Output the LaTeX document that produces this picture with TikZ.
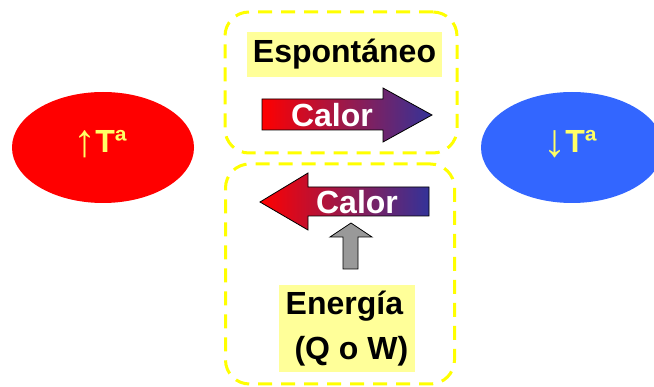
\documentclass[tikz,border=0pt]{standalone}
\usepackage{fontspec}
\setmainfont{Liberation Sans}
\definecolor{hotred}{HTML}{FF0000}
\definecolor{coldblue}{HTML}{3366FF}
\definecolor{labyel}{HTML}{FFFF66}
\definecolor{boxyel}{HTML}{FFFF99}
\definecolor{dashyel}{HTML}{FFFF00}
\definecolor{arrowend}{HTML}{333399}
\definecolor{grayarr}{HTML}{999999}
\newcommand{\bigarr}[1]{{\fontsize{46}{46}\selectfont\mdseries\raisebox{-4pt}{#1}}}
\tikzset{
  body/.style={ellipse, minimum width=182pt, minimum height=111pt, inner sep=0pt},
  dbox/.style={draw=dashyel, line width=3pt, rounded corners=24pt, dash pattern=on 14pt off 9pt, inner sep=0pt},
  tlabel/.style={text=labyel, font=\fontsize{32}{32}\selectfont\bfseries},
  hlabel/.style={fill=boxyel, inner sep=0pt, font=\fontsize{32}{45}\selectfont\bfseries},
  arrlabel/.style={text=white, font=\fontsize{32}{32}\selectfont\bfseries},
  heatarrow/.style={draw=black, line width=0.8pt, left color=hotred, right color=arrowend},
  energyarrow/.style={draw=black, line width=0.8pt, fill=grayarr}
}
\usetikzlibrary{shapes.geometric}
\begin{document}
\begin{tikzpicture}[x=1pt,y=-1pt]
\useasboundingbox (0,0) rectangle (654,387);
% bodies
\node[body, fill=hotred] (hot) at (103,147.5) {};
\node[body, fill=coldblue] (cold) at (572,147.5) {};
\node[tlabel] (hotT) at (100,144) {\bigarr{↑}\kern-1pt Tª};
\node[tlabel] (coldT) at (570,144) {\bigarr{↓}\kern-1pt Tª};
% dashed boxes
\node[dbox, minimum width=232pt, minimum height=141pt] (topbox) at (341,82.5) {};
\node[dbox, minimum width=229pt, minimum height=220pt] (botbox) at (340,274) {};
% top: spontaneous
\node[hlabel, minimum width=195pt, minimum height=45pt] (spont) at (344.5,54.5) {Espontáneo};
\shadedraw[heatarrow] (262,99) -- (383,99) -- (383,88) -- (432,115) -- (383,142) -- (383,130) -- (262,130) -- cycle;
\node[arrlabel] (calor1) at (332,115) {Calor};
% bottom: forced
\shadedraw[heatarrow] (429,187) -- (308,187) -- (308,173) -- (260,202) -- (308,230) -- (308,216) -- (429,216) -- cycle;
\node[arrlabel] (calor2) at (357,202) {Calor};
\draw[energyarrow] (343,269) -- (343,237) -- (330,237) -- (351,223) -- (372,237) -- (358,237) -- (358,269) -- cycle;
\node[hlabel, minimum width=136pt, minimum height=87pt, align=left] (energy) at (347,328.5) {Energía\\\ (Q o W)};
\end{tikzpicture}
\end{document}
